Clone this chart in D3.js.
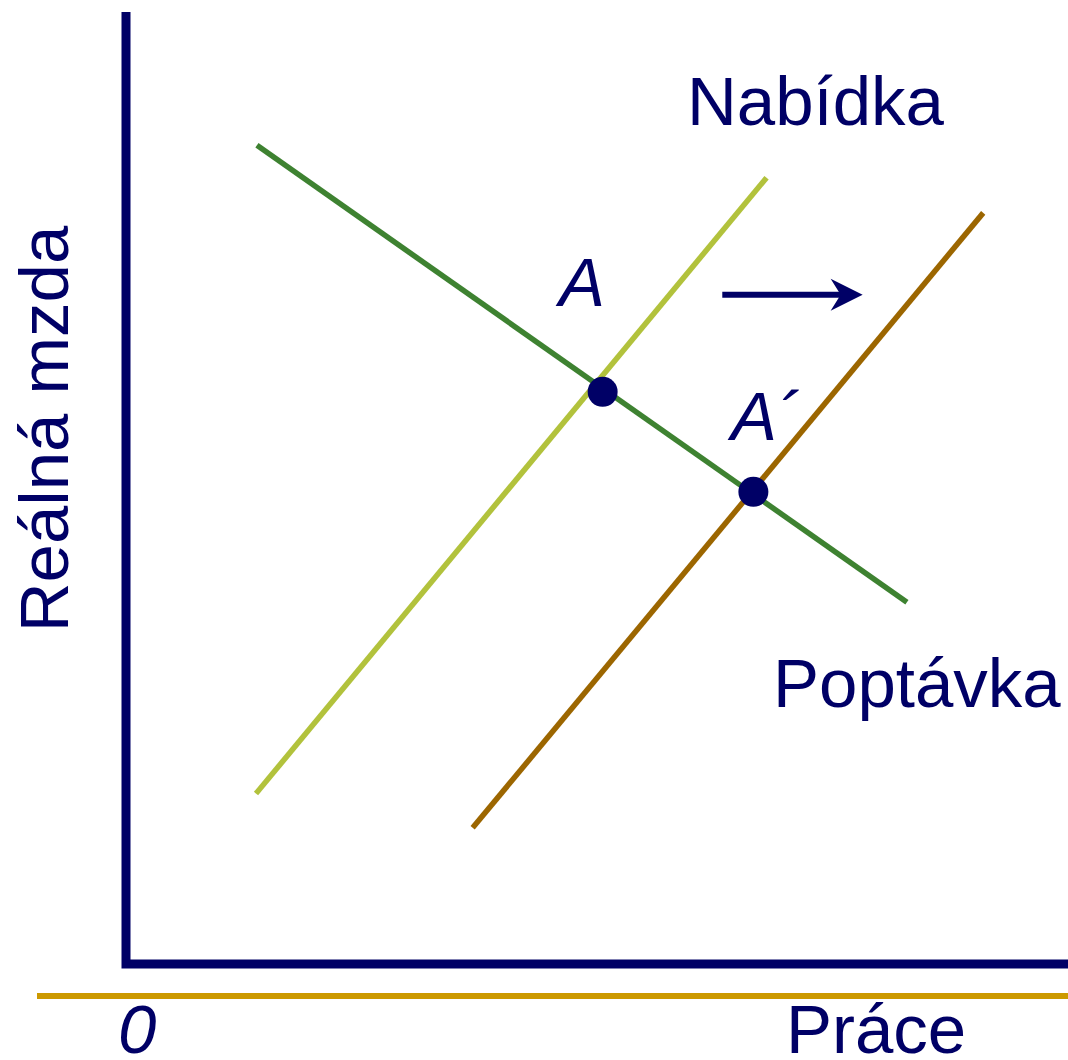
<!DOCTYPE html>
<html lang="cs">
<head>
    <meta charset="UTF-8">
    <title>Trh práce</title>
    <script src="https://d3js.org/d3.v7.min.js"></script>
    <style>
        body { margin: 0; background: #fff; }
        text { font-family: "Liberation Sans", Arial, sans-serif; fill: #000066; }
    </style>
</head>
<body>
    <svg id="chart" width="1068" height="1060"></svg>
    <script>
        // curves in chart units (0..100 on both axes)
        let demand = [[13.9, 86.0], [82.9, 38.0]]
        let supply = [[13.8, 17.9], [68.0, 82.6]]
        let supplyShifted = [[36.8, 14.3], [91.0, 78.9]]
        let equilibria = [
            { name: "A", x: 50.6, y: 60.1 },
            { name: "A\u00B4", x: 66.6, y: 49.6 }
        ]
        let shiftArrow = [[63.3, 70.3], [78.2, 70.3]]

        let navy = "#000066"
        let svg = d3.select("#chart")

        let x = d3.scaleLinear().domain([0, 100]).range([126, 1068])
        let y = d3.scaleLinear().domain([0, 100]).range([964, 12])

        let line = d3.line().x(d => x(d[0])).y(d => y(d[1]))

        // gold rule under the axis
        svg.append("line")
            .attr("x1", 37).attr("x2", 1068)
            .attr("y1", 996).attr("y2", 996)
            .attr("stroke", "#cc9900").attr("stroke-width", 6)

        // axes
        svg.append("path")
            .attr("d", `M${x(0)},${y(100)} L${x(0)},${y(0)} L${x(100)},${y(0)}`)
            .attr("fill", "none")
            .attr("stroke", navy)
            .attr("stroke-width", 9)
            .attr("stroke-linejoin", "miter")
            .attr("stroke-linecap", "butt")

        svg.append("path").attr("d", line(supply))
            .attr("stroke", "#b2c23c").attr("stroke-width", 5.5).attr("fill", "none")
        svg.append("path").attr("d", line(supplyShifted))
            .attr("stroke", "#9c6600").attr("stroke-width", 5.5).attr("fill", "none")
        svg.append("path").attr("d", line(demand))
            .attr("stroke", "#3e8231").attr("stroke-width", 5.5).attr("fill", "none")

        svg.selectAll("circle.eq")
            .data(equilibria)
            .enter()
            .append("circle")
            .attr("class", "eq")
            .attr("cx", d => x(d.x))
            .attr("cy", d => y(d.y))
            .attr("r", 15)
            .attr("fill", navy)

        // shift arrow
        let ax0 = x(shiftArrow[0][0]), ax1 = x(shiftArrow[1][0]), ay = y(shiftArrow[0][1])
        svg.append("line")
            .attr("x1", ax0).attr("x2", ax1 - 10)
            .attr("y1", ay).attr("y2", ay)
            .attr("stroke", navy).attr("stroke-width", 6)
        svg.append("path")
            .attr("d", `M${ax1},${ay} L${ax1 - 32},${ay - 16} L${ax1 - 22},${ay} L${ax1 - 32},${ay + 16} Z`)
            .attr("fill", navy)

        // labels
        let big = 69
        svg.append("text").attr("x", 687).attr("y", 125).attr("font-size", big).text("Nabídka")
        svg.append("text").attr("x", 773).attr("y", 707).attr("font-size", big).text("Poptávka")
        svg.append("text").attr("x", 786).attr("y", 1053).attr("font-size", big).text("Práce")
        svg.append("text").attr("x", 118).attr("y", 1053).attr("font-size", big)
            .attr("font-style", "italic").text("0")
        svg.append("text").attr("x", 559).attr("y", 306).attr("font-size", big)
            .attr("font-style", "italic").text(equilibria[0].name)
        svg.append("text").attr("x", 731).attr("y", 440).attr("font-size", big)
            .attr("font-style", "italic").text(equilibria[1].name)
        svg.append("text")
            .attr("transform", "translate(68,429) rotate(-90)")
            .attr("text-anchor", "middle")
            .attr("font-size", big)
            .text("Reálná mzda")
    </script>
</body>
</html>
